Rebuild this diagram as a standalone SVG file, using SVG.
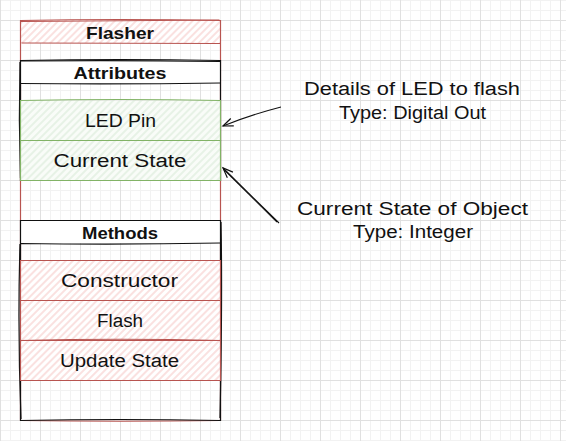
<svg xmlns="http://www.w3.org/2000/svg" width="566" height="441" viewBox="0 0 566 441">
<defs>
<style>
.t{font-family:"Liberation Sans",Arial,sans-serif;font-size:18px;fill:#111;text-anchor:middle}
.b{font-weight:bold;font-size:17px}
.red{stroke:#b85450;stroke-width:1.2;fill:none}
.grn{stroke:#82b366;stroke-width:1.2;fill:none}
.blk{stroke:#111;stroke-width:1.2;fill:none}
.conn{stroke:#111;stroke-width:1.1;fill:none}
</style>
<pattern id="grid" width="40" height="40" patternUnits="userSpaceOnUse" x="0" y="20">
<path d="M10.5 0V40M20.5 0V40M30.5 0V40M0 10.5H40M0 20.5H40M0 30.5H40" stroke="#f2f2f2" stroke-width="1"/>
<path d="M0.5 0V40M0 0.5H40" stroke="#e0e0e0" stroke-width="1"/>
</pattern>
<pattern id="hatchR" width="5" height="5" patternUnits="userSpaceOnUse" patternTransform="rotate(45)">
<rect width="5" height="5" fill="#fff"/>
<line x1="1" y1="0" x2="1" y2="5" stroke="#f5c4c2" stroke-width="1"/>
</pattern>
<pattern id="hatchG" width="5" height="5" patternUnits="userSpaceOnUse" patternTransform="rotate(45)">
<rect width="5" height="5" fill="#f9fcf8"/>
<line x1="1" y1="0" x2="1" y2="5" stroke="#d5e8d4" stroke-width="1"/>
</pattern>
<marker id="open" markerWidth="14" markerHeight="12" refX="11" refY="5" orient="auto" markerUnits="userSpaceOnUse">
<path d="M1,1 L11,5 L1,9" fill="none" stroke="#111" stroke-width="1.2"/>
</marker>
</defs>
<rect width="566" height="441" fill="#fff"/>
<rect width="566" height="441" fill="url(#grid)"/>

<g id="flasher">
<rect x="20" y="20" width="200" height="23" fill="url(#hatchR)"/>
<path class="red" d="M20.5 20.5 Q120 18.5 220.5 20.5 L220.5 420.5 Q120 422 20.5 420.5 Z"/>
<path class="red" d="M21 21.5 L219.5 20 M21.5 43 L220 43.5" stroke-width="1.6"/>
<text class="t b" x="120" y="39" textLength="68" lengthAdjust="spacingAndGlyphs">Flasher</text>
</g>

<g id="attributes">
<rect x="20" y="60" width="200" height="23" fill="#fff"/>
<path class="blk" d="M20.5 60.5 Q120 58.5 220.5 60.5 L220.5 180.5 L20.5 180.5 Z"/>
<path class="blk" d="M21 61 Q120 60 220 61.5 M20.5 83.5 Q120 84.5 220.5 83 M20 62 Q18.5 120 20.5 178" stroke-width="1.6"/>
<text class="t b" x="120" y="79" textLength="93" lengthAdjust="spacingAndGlyphs">Attributes</text>
</g>

<g id="led-pin">
<rect x="20.5" y="100.5" width="200" height="40" fill="url(#hatchG)"/>
<path class="grn" d="M20.5 100.5 Q120 98.5 220.5 100.5 L220.5 140.5 L20.5 140.5 Z"/>
<text class="t" x="120.5" y="127" textLength="71" lengthAdjust="spacingAndGlyphs">LED Pin</text>
</g>

<g id="current-state">
<rect x="20.5" y="140.5" width="200" height="40" fill="url(#hatchG)"/>
<path class="grn" d="M20.5 140.5 L220.5 140.5 L220.5 180.5 L20.5 180.5 Z"/>
<text class="t" x="120" y="167" textLength="133" lengthAdjust="spacingAndGlyphs">Current State</text>
</g>

<g id="methods">
<rect x="20" y="220" width="200" height="23" fill="#fff"/>
<path class="blk" d="M20.5 220.5 L220.5 220.5 L220.5 420.5 Q120 418.5 20.5 420.5 Z"/>
<path class="blk" d="M20.5 243.5 Q120 245 220.5 243 M20 244 Q17.5 330 21 419 M221 222 Q222.5 300 220 418" stroke-width="1.6"/>
<text class="t b" x="120" y="239" textLength="76" lengthAdjust="spacingAndGlyphs">Methods</text>
</g>

<g id="constructor">
<rect x="20.5" y="260.5" width="200" height="40" fill="url(#hatchR)"/>
<path class="red" d="M20.5 260.5 L220.5 260.5 L220.5 300.5 L20.5 300.5 Z"/>
<text class="t" x="119.5" y="287" textLength="117" lengthAdjust="spacingAndGlyphs">Constructor</text>
</g>

<g id="flash">
<rect x="20.5" y="300.5" width="200" height="40" fill="url(#hatchR)"/>
<path class="red" d="M20.5 300.5 L220.5 300.5 L220.5 340.5 Q120 338 20.5 340.5 Z"/>
<text class="t" x="120" y="327" textLength="46" lengthAdjust="spacingAndGlyphs">Flash</text>
</g>

<g id="update-state">
<rect x="20.5" y="340.5" width="200" height="40" fill="url(#hatchR)"/>
<path class="red" d="M20.5 340.5 L220.5 340.5 L220.5 380.5 L20.5 380.5 Z"/>
<text class="t" x="119.5" y="367" textLength="119" lengthAdjust="spacingAndGlyphs">Update State</text>
</g>

<g id="note-led">
<text class="t" x="412" y="95" textLength="216" lengthAdjust="spacingAndGlyphs">Details of LED to flash</text>
<text class="t" x="412.5" y="119" textLength="147" lengthAdjust="spacingAndGlyphs">Type: Digital Out</text>
</g>

<g id="note-state">
<text class="t" x="412.5" y="215" textLength="231" lengthAdjust="spacingAndGlyphs">Current State of Object</text>
<text class="t" x="413" y="238" textLength="120" lengthAdjust="spacingAndGlyphs">Type: Integer</text>
</g>

<g id="connectors">
<path class="conn" d="M281 107 Q250 115 223 126" marker-end="url(#open)"/>
<path class="conn" d="M279 223 L223 168" marker-end="url(#open)"/>
<path class="conn" d="M277 222 L224 169.5" stroke-width="0.8"/>
</g>
</svg>
